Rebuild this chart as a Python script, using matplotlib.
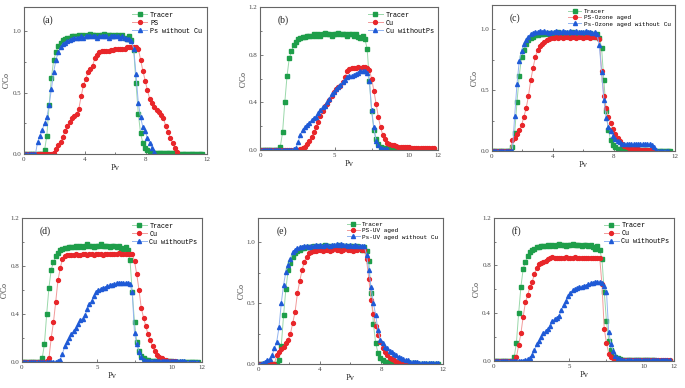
import numpy as np
import matplotlib
matplotlib.use("Agg")
import matplotlib.pyplot as plt

plt.rcParams['font.family'] = ['Liberation Serif', 'DejaVu Serif']

# pore volume grid (sampling points)
pv = np.round(np.arange(0, 11.75, 0.15), 2)

tracer = [0, 0, 0, 0, 0, 0, 0, 0, 0,
          0.03, 0.15, 0.40, 0.62, 0.77, 0.83, 0.88, 0.91, 0.93, 0.94, 0.95,
          0.95, 0.96, 0.96, 0.96, 0.97, 0.96, 0.97, 0.96, 0.97, 0.98,
          0.97, 0.97, 0.96, 0.97, 0.97, 0.98, 0.97, 0.97, 0.97, 0.96,
          0.97, 0.97, 0.96, 0.97, 0.95, 0.94, 0.96, 0.93, 0.85, 0.58,
          0.33, 0.17, 0.09, 0.05, 0.03, 0.02, 0.015, 0.01, 0.01, 0.01,
          0.01, 0.008, 0.008, 0.006, 0.006, 0.005, 0.005, 0.004, 0.004, 0.003,
          0.003, 0.003, 0.002, 0.002, 0.002, 0.002, 0.001, 0.001, 0.001]

# (a)
a_ps = [0] * 13 + [0.01, 0.04, 0.07, 0.10, 0.14, 0.19, 0.23,
        0.26, 0.29, 0.31, 0.33, 0.37, 0.47, 0.56, 0.61, 0.67, 0.69,
        0.72, 0.78, 0.81, 0.83, 0.84, 0.84, 0.84, 0.84, 0.85, 0.85,
        0.86, 0.86, 0.86, 0.86, 0.86, 0.87, 0.87, 0.87, 0.87, 0.87,
        0.86, 0.77, 0.68, 0.60, 0.52, 0.45, 0.42, 0.38, 0.36, 0.34,
        0.32, 0.29, 0.23, 0.18, 0.13, 0.09, 0.05, 0.02]
a_ps_nocu = [0] * 6 + [0.10, 0.15, 0.20, 0.25, 0.30, 0.40, 0.53, 0.67, 0.77, 0.83, 0.87, 0.90, 0.91, 0.92,
             0.93, 0.94, 0.95, 0.95, 0.95, 0.96, 0.95, 0.96, 0.96, 0.96,
             0.96, 0.96, 0.95, 0.96, 0.96, 0.96, 0.96, 0.95, 0.96, 0.96,
             0.96, 0.96, 0.95, 0.96, 0.95, 0.94, 0.94, 0.92, 0.86, 0.65,
             0.42, 0.30, 0.22, 0.19, 0.13, 0.09, 0.05, 0.02]

# (b)
b_cu = [0] * 18 + [0.01, 0.02,
        0.03, 0.05, 0.08, 0.11, 0.15, 0.19, 0.24, 0.29, 0.33, 0.37,
        0.39, 0.42, 0.45, 0.49, 0.51, 0.53, 0.54, 0.57, 0.61, 0.66,
        0.68, 0.69, 0.69, 0.69, 0.70, 0.69, 0.70, 0.70, 0.69, 0.67,
        0.60, 0.50, 0.39, 0.28, 0.19, 0.13, 0.09, 0.06, 0.05, 0.045,
        0.04, 0.035, 0.03, 0.03, 0.028, 0.026, 0.025, 0.024, 0.022, 0.021,
        0.02, 0.02, 0.019, 0.018, 0.017, 0.016, 0.016, 0.015, 0.015]
b_cu_nops = [0] * 15 + [0.01, 0.02, 0.07, 0.13, 0.17,
             0.19, 0.21, 0.23, 0.25, 0.27, 0.28, 0.31, 0.34, 0.36, 0.37,
             0.40, 0.43, 0.47, 0.49, 0.51, 0.53, 0.55, 0.57, 0.59, 0.61,
             0.62, 0.62, 0.63, 0.64, 0.65, 0.66, 0.66, 0.66, 0.65, 0.58,
             0.34, 0.19, 0.08, 0.04, 0.02, 0.01, 0.01, 0.01]

# (c)
c_ps_ozone = [0] * 9 + [0.09, 0.11, 0.14, 0.17, 0.21, 0.28, 0.35, 0.45, 0.58, 0.68, 0.77,
              0.83, 0.86, 0.88, 0.90, 0.91, 0.92, 0.93, 0.93, 0.94, 0.93,
              0.94, 0.93, 0.94, 0.94, 0.93, 0.94, 0.94, 0.93, 0.94, 0.94,
              0.93, 0.94, 0.94, 0.93, 0.94, 0.94, 0.94, 0.92, 0.66, 0.45,
              0.35, 0.28, 0.23, 0.18, 0.14, 0.11, 0.08, 0.06, 0.04, 0.03,
              0.025, 0.02, 0.02, 0.015, 0.015, 0.01, 0.01, 0.01, 0.01, 0.005, 0.005]
c_ps_ozone_nocu = [0] * 10 + [0.29, 0.55, 0.74, 0.82, 0.88, 0.91, 0.94, 0.96, 0.97, 0.98,
                   0.98, 0.99, 0.98, 0.99, 0.98, 0.97, 0.98, 0.98, 0.99, 0.98,
                   0.98, 0.99, 0.98, 0.98, 0.99, 0.98, 0.98, 0.99, 0.98, 0.98,
                   0.98, 0.99, 0.98, 0.98, 0.97, 0.98, 0.96, 0.87, 0.65, 0.42,
                   0.27, 0.20, 0.16, 0.12, 0.10, 0.08, 0.07, 0.06, 0.06, 0.06,
                   0.06, 0.055, 0.055, 0.055, 0.055, 0.055, 0.055, 0.055, 0.055, 0.055,
                   0.05, 0.03, 0.01, 0, 0, 0, 0, 0]

# (d)
d_cu = [0] * 11 + [0.01, 0.03, 0.20, 0.33, 0.50, 0.68, 0.78, 0.86, 0.88,
        0.89, 0.89, 0.89, 0.89, 0.90, 0.89, 0.89, 0.90, 0.90, 0.89,
        0.90, 0.90, 0.89, 0.90, 0.90, 0.90, 0.89, 0.90, 0.90, 0.90,
        0.90, 0.90, 0.90, 0.91, 0.90, 0.90, 0.90, 0.90, 0.90, 0.90,
        0.84, 0.73, 0.60, 0.45, 0.37, 0.30, 0.23, 0.18, 0.13, 0.09,
        0.06, 0.04, 0.03, 0.02, 0.015, 0.01, 0.01, 0.005, 0.005]
d_cu_nops = [0] * 16 + [0.01, 0.02, 0.07, 0.13,
             0.17, 0.20, 0.23, 0.26, 0.28, 0.32, 0.35, 0.36, 0.39, 0.44,
             0.48, 0.51, 0.55, 0.58, 0.60, 0.61, 0.62, 0.62, 0.63, 0.64,
             0.64, 0.65, 0.66, 0.66, 0.66, 0.66, 0.66, 0.66, 0.65, 0.58,
             0.24, 0.15, 0.08, 0.04, 0.02, 0.01, 0.01, 0.01, 0.01, 0.01,
             0.01, 0.01, 0.008, 0.008, 0.008, 0.006, 0.006, 0.006, 0.005, 0.005,
             0.005, 0.005, 0.005, 0.004, 0.004, 0.004, 0.004, 0.003, 0.003]

# (e)
e_ps_uv = [0] * 8 + [0.07, 0.10, 0.12, 0.14, 0.17, 0.20, 0.25, 0.34, 0.43, 0.58, 0.68, 0.77,
           0.84, 0.88, 0.91, 0.92, 0.93, 0.93, 0.94, 0.94, 0.93, 0.94,
           0.94, 0.93, 0.94, 0.95, 0.94, 0.94, 0.93, 0.94, 0.95, 0.94,
           0.94, 0.93, 0.94, 0.94, 0.95, 0.94, 0.94, 0.86, 0.70, 0.53,
           0.41, 0.31, 0.24, 0.18, 0.13, 0.10, 0.07, 0.05, 0.04, 0.03,
           0.02, 0.015, 0.01, 0.01, 0.005, 0.005]
e_ps_uv_nocu = [0, 0, 0.01, 0.02, 0.03, 0.04, 0.07, 0.13, 0.18, 0.30,
                0.50, 0.65, 0.76, 0.81, 0.86, 0.92, 0.94, 0.95, 0.96, 0.96,
                0.97, 0.97, 0.96, 0.97, 0.97, 0.98, 0.97, 0.98, 0.97, 0.98,
                0.98, 0.97, 0.98, 0.98, 0.99, 0.98, 0.99, 0.98, 0.98, 0.97,
                0.98, 0.97, 0.98, 0.97, 0.97, 0.97, 0.97, 0.90, 0.77, 0.63,
                0.50, 0.40, 0.28, 0.20, 0.17, 0.14, 0.13, 0.11, 0.10, 0.08,
                0.07, 0.06, 0.05, 0.04, 0.03, 0.03, 0.02, 0.02, 0.015, 0.015,
                0.01, 0.01, 0.01, 0.005, 0.005, 0.005, 0.005, 0.005, 0.005]

# (f)
f_cu = [0] * 10 + [0.03, 0.13, 0.23, 0.37, 0.49, 0.55, 0.62, 0.66, 0.73, 0.78,
        0.81, 0.82, 0.83, 0.84, 0.85, 0.86, 0.87, 0.86, 0.86, 0.86,
        0.86, 0.86, 0.87, 0.86, 0.86, 0.86, 0.87, 0.86, 0.86, 0.86,
        0.86, 0.86, 0.86, 0.86, 0.86, 0.86, 0.86, 0.86, 0.64, 0.27,
        0.15, 0.06, 0.03, 0.02, 0.015, 0.01, 0.01, 0.01, 0.008, 0.008,
        0.007, 0.007, 0.006, 0.006, 0.005, 0.005, 0.005, 0.004, 0.004, 0.004,
        0.003, 0.003, 0.003, 0.003, 0.003, 0.003, 0.003, 0.003, 0.003]
f_cu_nops = [0] * 14 + [0.01, 0.015, 0.02, 0.05, 0.09, 0.14,
             0.17, 0.20, 0.23, 0.25, 0.27, 0.29, 0.33, 0.35, 0.36, 0.38,
             0.43, 0.47, 0.50, 0.54, 0.57, 0.59, 0.60, 0.61, 0.62, 0.62,
             0.63, 0.63, 0.64, 0.65, 0.65, 0.66, 0.66, 0.66, 0.65, 0.63,
             0.58, 0.24, 0.14, 0.08, 0.04, 0.025, 0.015, 0.01, 0.01, 0.01,
             0.01, 0.01, 0.008, 0.008, 0.008, 0.006, 0.006, 0.006, 0.005, 0.005,
             0.005, 0.005, 0.004, 0.004, 0.004, 0.004, 0.003, 0.003, 0.003]

panels = [
    ("(a)", [0.035, 0.603, 0.267, 0.379], a_ps, a_ps_nocu, ["Tracer", "PS", "Ps without Cu"], "half", 4.9),
    ("(b)", [0.380, 0.613, 0.260, 0.369], b_cu, b_cu_nops, ["Tracer", "Cu", "Cu withoutPs"], "fifth", 4.9),
    ("(c)", [0.718, 0.611, 0.267, 0.376], c_ps_ozone, c_ps_ozone_nocu,
     ["Tracer", "PS-Ozone aged", "Ps-Ozone aged without Cu"], "half", 4.3),
    ("(d)", [0.032, 0.067, 0.263, 0.371], d_cu, d_cu_nops, ["Tracer", "Cu", "Cu withoutPs"], "fifth", 4.9),
    ("(e)", [0.377, 0.062, 0.269, 0.376], e_ps_uv, e_ps_uv_nocu,
     ["Tracer", "PS-UV aged", "Ps-UV aged without Cu"], "half", 4.3),
    ("(f)", [0.721, 0.070, 0.263, 0.369], f_cu, f_cu_nops, ["Tracer", "Cu", "Cu withoutPs"], "fifth", 4.9),
]

green, red, blue = "#1e9e4a", "#e8262a", "#1f5ad6"
lgreen, lred, lblue = "#9ad8aa", "#f29a9a", "#93b4f0"
frame = "#666666"

fig = plt.figure(figsize=(6.85, 3.88), dpi=100)

for tag, pos, s1, s2, labels, style, lfs in panels:
    ax = fig.add_axes(pos)
    ax.plot(pv[:len(tracer)], tracer, "-", color=lgreen, lw=0.7, marker="s", ms=2.5,
            mfc=green, mec=green, label=labels[0])
    ax.plot(pv[:len(s1)], s1, "-", color=lred, lw=0.7, marker="o", ms=2.8,
            mfc=red, mec=red, label=labels[1])
    ax.plot(pv[:len(s2)], s2, "-", color=lblue, lw=0.7, marker="^", ms=2.9,
            mfc=blue, mec=blue, label=labels[2])
    ax.set_xlim(0, 12)
    ax.set_ylim(0, 1.2)
    if style == "half":
        ax.set_xticks([0, 4, 8, 12])
        ax.set_xticks([2, 6, 10], minor=True)
        ax.set_yticks([0, 0.5, 1.0])
        ax.set_yticks([0.25, 0.75], minor=True)
        ax.set_yticklabels(["0.0", "0.5", "1.0"])
    else:
        ax.set_xticks([0, 5, 10, 12])
        ax.set_xticks([2.5, 7.5], minor=True)
        ax.set_yticks([0, 0.4, 0.8, 1.2])
        ax.set_yticks([0.2, 0.6, 1.0], minor=True)
        ax.set_yticklabels(["0.0", "0.4", "0.8", "1.2"])
    ax.tick_params(which="both", direction="in", colors=frame, labelcolor="#444444",
                   labelsize=5, width=0.6, pad=2)
    ax.tick_params(which="major", length=2.5)
    ax.tick_params(which="minor", length=1.5)
    for sp in ax.spines.values():
        sp.set_color(frame)
        sp.set_linewidth(0.8)
    ax.set_xlabel("Pv", fontsize=6, color="#333333", labelpad=1.5)
    ax.set_ylabel("C/Co", fontsize=5.5, color="#333333", labelpad=1)
    ax.text(0.1, 0.91, tag, transform=ax.transAxes, fontsize=7, color="#222222",
            va="center", ha="left")
    ax.legend(loc="upper right", frameon=False, handlelength=2.2,
              handletextpad=0.4, labelspacing=0.15, borderaxespad=0.3,
              prop={"family": ["Liberation Mono", "DejaVu Sans Mono"], "size": lfs})

fig.savefig("out.png", dpi=100)
